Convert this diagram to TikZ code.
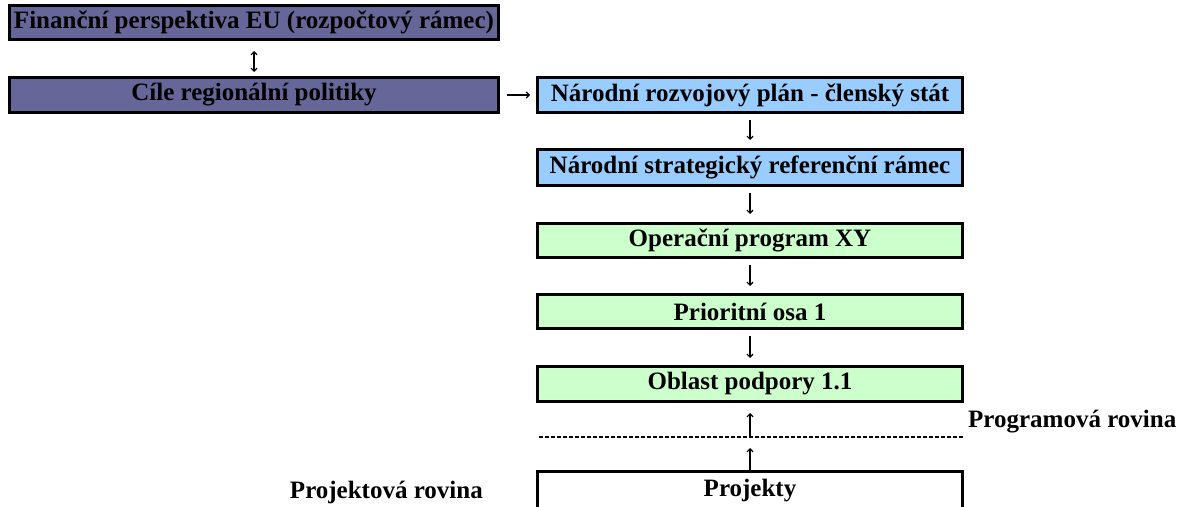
\documentclass[tikz,border=0pt]{standalone}
\usepackage{fontspec}
\setmainfont{Liberation Serif}
\usepackage{xcolor}
\definecolor{euPurple}{HTML}{666699}
\definecolor{natBlue}{HTML}{99CCFF}
\definecolor{opGreen}{HTML}{CCFFCC}
\usetikzlibrary{calc}
\usetikzlibrary{arrows.meta}
\tikzset{
    levelbox/.style={draw=black, line width=2.6pt, inner sep=0pt, font=\fontsize{25}{28}\selectfont\bfseries},
    euBox/.style ={levelbox, fill=euPurple, minimum width=489.4pt},
    natBox/.style={levelbox, fill=natBlue, minimum width=425.4pt},
    opBox/.style ={levelbox, fill=opGreen, minimum width=425.4pt},
    prjBox/.style={levelbox, fill=white, minimum width=425.4pt},
    flow/.style={line width=1.2pt, -{Straight Barb[length=3pt,width=6pt]}},
    flowBoth/.style={line width=1.2pt, {Straight Barb[length=3pt,width=6pt]}-{Straight Barb[length=3pt,width=6pt]}},
    sideLabel/.style={font=\fontsize{25}{28}\selectfont\bfseries, inner sep=0pt}
}

\begin{document}
\begin{tikzpicture}[x=1pt, y=-1pt]
  % frame
  \useasboundingbox (0,0) rectangle (1188,506);

  % EU level
  \node[euBox, minimum height=34.4pt] (fin) at (254,22.5) {Finanční perspektiva EU (rozpočtový rámec)};
  \node[euBox, minimum height=35.4pt] (cil) at (254,95) {Cíle regionální politiky};

  % national level
  \node[natBox, minimum height=35.4pt] (nrp)  at (750,95)    {Národní rozvojový plán - členský stát};
  \node[natBox, minimum height=36.4pt] (nsrr) at (750,167.5) {Národní strategický referenční rámec};

  % programme level
  \node[opBox, minimum height=34.4pt] (op)   at (750,240.5) {Operační program XY};
  \node[opBox, minimum height=34.4pt] (osa)  at (750,311.5) {Prioritní osa 1};
  \node[opBox, minimum height=35.4pt] (obl)  at (750,384)   {Oblast podpory 1.1};

  % project level (cut by the lower edge)
  \node[prjBox, minimum height=39.4pt] (prj) at (750,491) {Projekty};

  % dividing line between the two levels
  \coordinate (lvlL) at (539,437);
  \coordinate (lvlR) at (963,437);
  \draw[line width=1.2pt, dash pattern=on 4pt off 2pt] (lvlL) -- (lvlR);
  \coordinate (lvl) at (obl.south |- lvlL);

  \node[sideLabel, anchor=west] (progLbl) at (968,422) {Programová rovina};
  \node[sideLabel, anchor=east] (prjLbl)  at (483,492) {Projektová rovina};

  % connectors
  \draw[flowBoth, shorten <=10pt, shorten >=4pt] (fin.south) -- (cil.north);
  \draw[flow, shorten <=7pt, shorten >=6pt] (cil.east) -- (nrp.west);
  \draw[flow, shorten <=6pt, shorten >=8pt] (nrp.south) -- (nsrr.north);
  \draw[flow, shorten <=6pt, shorten >=8pt] (nsrr.south) -- (op.north);
  \draw[flow, shorten <=6pt, shorten >=7pt] (op.south) -- (osa.north);
  \draw[flow, shorten <=6pt, shorten >=7pt] (osa.south) -- (obl.north);
  \draw[flow, shorten >=11pt] (prj.north) -- (lvl);
  \draw[flow, shorten >=10pt] (lvl) -- (obl.south);
\end{tikzpicture}
\end{document}
